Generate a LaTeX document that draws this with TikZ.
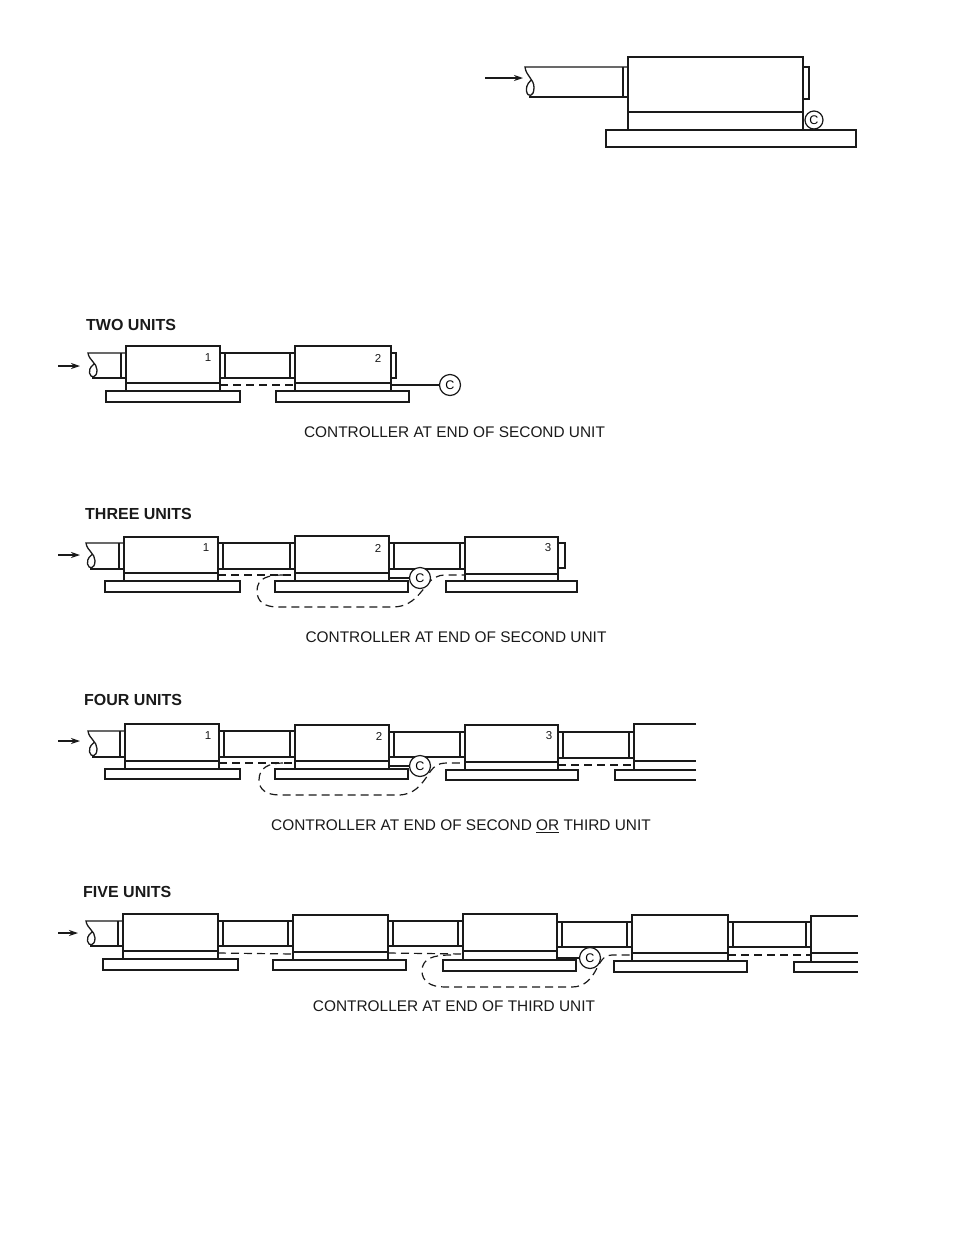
\documentclass[tikz,border=0pt]{standalone}
\usepackage{fontspec}
\setmainfont{Liberation Sans}
\usetikzlibrary{calc,arrows.meta}
\definecolor{ink}{HTML}{1A1A1A}
\newcommand{\unitbox}[9]{% id xl xr ytop ydiv ybot basexl basexr basebot
  \node[boxst,minimum width=#3pt-#2pt,minimum height=#5pt-#4pt] (#1) at (#2,#4) {};
  \node[boxst,minimum width=#3pt-#2pt,minimum height=#6pt-#5pt] (#1-l) at (#2,#5) {};
  \node[boxst,minimum width=#8pt-#7pt,minimum height=#9pt-#6pt] (#1-b) at (#7,#6) {};
}
\newcommand{\openbox}[8]{% id xl xr ytop ydiv ybot basexl basebot
  \coordinate (#1-tl) at (#2,#4);
  \coordinate (#1-dl) at (#2,#5);
  \coordinate (#1-bl) at (#2,#6);
  \draw[ln] (#3,#4) -- (#1-tl) -- (#1-bl) -- (#3,#6);
  \draw[ln] (#1-dl) -- (#3,#5);
  \draw[ln] (#3,#6) -- (#7,#6) -- (#7,#8) -- (#3,#8);
}
\newcommand{\pipeseg}[4]{% xl xr ytop ybot
  \draw[ln] (#1,#3) -- (#2,#3) (#1,#4) -- (#2,#4);
  \draw[thinl] (#1+5,#3) -- (#1+5,#4) (#2-5,#3) -- (#2-5,#4);
}
\newcommand{\stub}[4]{% x dx ytop ybot
  \draw[thinl] (#1,#3) -- (#1+#2,#3) -- (#1+#2,#4) -- (#1,#4);
}
\newcommand{\breakend}[4]{% x ytop ybot xbox
  \draw[ln] (#4,#2) -- (#1,#2) .. controls (#1+1,#2*0.7+#3*0.3) and (#1+9,#2*0.6+#3*0.4) .. (#1+9,#2*0.32+#3*0.68)
     .. controls (#1+9,#3+0.5) and (#1+2.5,#3+0.5) .. (#1+1.5,#2*0.2+#3*0.8)
     .. controls (#1+1,#2*0.45+#3*0.55) and (#1+5,#2*0.5+#3*0.5) .. (#1+6.5,#2*0.58+#3*0.42);
  \draw[ln] (#1+4,#3) -- (#4,#3);
  \draw[thinl] (#4-5,#2) -- (#4-5,#3);
}
\tikzset{
  x=1pt,y=-1pt,
  ln/.style={draw=ink,line width=1.3pt},
  thinl/.style={draw=ink,line width=1.1pt},
  boxst/.style={draw=ink,line width=1.2pt,fill=white,rectangle,anchor=north west,inner sep=0pt,outer sep=0pt},
  ctrl/.style={draw=ink,line width=1.2pt,fill=white,circle,inner sep=0pt,minimum size=#1,font=\fontsize{12.5}{12.5}\selectfont},
  ctrl/.default=21pt,
  dsh/.style={draw=ink,line width=1.2pt,dash pattern=on 8pt off 5pt},
  flowarrow/.style={draw=ink,line width=1.2pt,-{Stealth[length=9pt,width=6pt]}},
  head/.style={font=\fontsize{16}{16}\selectfont\bfseries,anchor=west,inner sep=0pt,text=ink},
  capt/.style={font=\fontsize{15.4}{16}\selectfont,anchor=center,inner sep=0pt,text=ink},
  num/.style={font=\fontsize{11.5}{11.5}\selectfont,inner sep=0pt,text=ink},
}
\begin{document}
\begin{tikzpicture}
\useasboundingbox (0,0) rectangle (954,1235);
\fill[white] (0,0) rectangle (954,1235);

% ---- single unit
\unitbox{s}{628}{803}{57}{112}{130}{606}{856}{147}
\breakend{525}{67}{97}{628}
\stub{803}{6}{67}{99}
\node[ctrl=18pt] (sc) at (814,120) {C};
\coordinate (sa) at (485,78);
\coordinate (sat) at (523,78);
\draw[flowarrow] (sa) -- (sat);

% ---- two units
\node[head] (h2) at (86,325) {TWO UNITS};
\unitbox{a}{126}{220}{346}{383}{391}{106}{240}{402}
\unitbox{b}{295}{391}{346}{383}{391}{276}{409}{402}
\breakend{88}{353}{378}{126}
\pipeseg{220}{295}{353}{378}
\stub{391}{5}{353}{378}
\node[num] (a1) at (208,358) {1};
\node[num] (b1) at (378,358) {2};
\draw[dsh] ([yshift=-2pt]a-l.north east) -- ([yshift=-2pt]b-l.north west);
\node[ctrl] (c2) at (450,385) {C};
\draw[ln] ([yshift=-2pt]b-l.north east) -- (c2.west);
\coordinate (a2a) at (58,366);
\coordinate (a2b) at (80,366);
\draw[flowarrow] (a2a) -- (a2b);
\node[capt] (t2) at (454.5,432) {CONTROLLER AT END OF SECOND UNIT};

% ---- three units
\node[head] (h3) at (85,514) {THREE UNITS};
\unitbox{d}{124}{218}{537}{573}{581}{105}{240}{592}
\unitbox{e}{295}{389}{536}{573}{581}{275}{408}{592}
\unitbox{f}{465}{558}{537}{574}{581}{446}{577}{592}
\breakend{86}{543}{569}{124}
\pipeseg{218}{295}{543}{569}
\pipeseg{389}{465}{543}{569}
\stub{558}{7}{543}{568}
\node[num] (d1) at (206,548) {1};
\node[num] (e1) at (378,548) {2};
\node[num] (f1) at (548,548) {3};
\draw[dsh] ([yshift=-2pt]d-l.north east) -- ([yshift=-2pt]e-l.north west);
\draw[dsh] (283,575) .. controls (268,575) and (257,578) .. (257,591)
  .. controls (257,602) and (265,607) .. (278,607) -- (392,607)
  .. controls (410,607) and (417,597) .. (426,586) .. controls (432,578) and (437,575) .. (446,575)
  -- ([yshift=-1pt]f-l.north west);
\node[ctrl] (c3) at (420,578) {C};
\draw[ln] ([yshift=3pt]e-l.south east) -- (c3.west);
\coordinate (a3a) at (58,555);
\coordinate (a3b) at (80,555);
\draw[flowarrow] (a3a) -- (a3b);
\node[capt] (t3) at (456,637) {CONTROLLER AT END OF SECOND UNIT};

% ---- four units
\node[head] (h4) at (84,700) {FOUR UNITS};
\unitbox{g}{125}{219}{724}{761}{769}{105}{240}{779}
\unitbox{i}{295}{389}{725}{761}{769}{275}{408}{779}
\unitbox{j}{465}{558}{725}{762}{770}{446}{578}{780}
\openbox{k}{634}{696}{724}{761}{770}{615}{780}
\breakend{88}{731}{757}{125}
\pipeseg{219}{295}{731}{757}
\pipeseg{389}{465}{732}{757}
\pipeseg{558}{634}{732}{758}
\node[num] (g1) at (208,736) {1};
\node[num] (i1) at (379,736) {2};
\node[num] (j1) at (549,736) {3};
\draw[dsh] ([yshift=-2pt]g-l.north east) -- ([yshift=-2pt]i-l.north west);
\draw[dsh] (283,763) .. controls (270,763) and (259,767) .. (259,780)
  .. controls (259,790) and (267,795) .. (280,795) -- (398,795)
  .. controls (414,795) and (421,785) .. (428,775) .. controls (433,767) and (437,763) .. (447,763)
  -- ([yshift=-1pt]j-l.north west);
\draw[dsh] ([yshift=-3pt]j-l.north east) -- (k-dl |- 0,765);
\node[ctrl] (c4) at (420,766) {C};
\draw[ln] ([yshift=3pt]i-l.south east) -- (c4.west);
\coordinate (a4a) at (58,741);
\coordinate (a4b) at (80,741);
\draw[flowarrow] (a4a) -- (a4b);
\node[capt] (t4) at (461,826) {CONTROLLER AT END OF SECOND \underline{OR} THIRD UNIT};

% ---- five units
\node[head] (h5) at (83,892) {FIVE UNITS};
\unitbox{m}{123}{218}{914}{951}{959}{103}{238}{970}
\unitbox{n}{293}{388}{915}{952}{960}{273}{406}{970}
\unitbox{o}{463}{557}{914}{951}{960}{443}{576}{971}
\unitbox{p}{632}{728}{915}{953}{961}{614}{747}{972}
\openbox{q}{811}{858}{916}{953}{962}{794}{972}
\breakend{86}{921}{946}{123}
\pipeseg{218}{293}{921}{946}
\pipeseg{388}{463}{921}{946}
\pipeseg{557}{632}{922}{947}
\pipeseg{728}{811}{922}{947}
\draw[dsh] ([yshift=-2pt]m-l.north east) -- ([yshift=-2pt]n-l.north west);
\draw[dsh] ([yshift=-1pt]n-l.north east) -- ([yshift=-3pt]o-l.north west);
\draw[dsh] (451,955) .. controls (434,955) and (422,958) .. (422,971)
  .. controls (422,981) and (430,987) .. (445,987) -- (572,987)
  .. controls (585,987) and (592,978) .. (597,968) .. controls (602,958) and (606,955) .. (612,955)
  -- ([yshift=-2pt]p-l.north west);
\draw[dsh] ([yshift=-2pt]p-l.north east) -- (q-dl |- 0,955);
\node[ctrl] (c5) at (590,958) {C};
\draw[ln] ([yshift=2pt]o-l.south east) -- (c5.west);
\coordinate (a5a) at (58,933);
\coordinate (a5b) at (78,933);
\draw[flowarrow] (a5a) -- (a5b);
\node[capt] (t5) at (454,1006) {CONTROLLER AT END OF THIRD UNIT};
\end{tikzpicture}
\end{document}
